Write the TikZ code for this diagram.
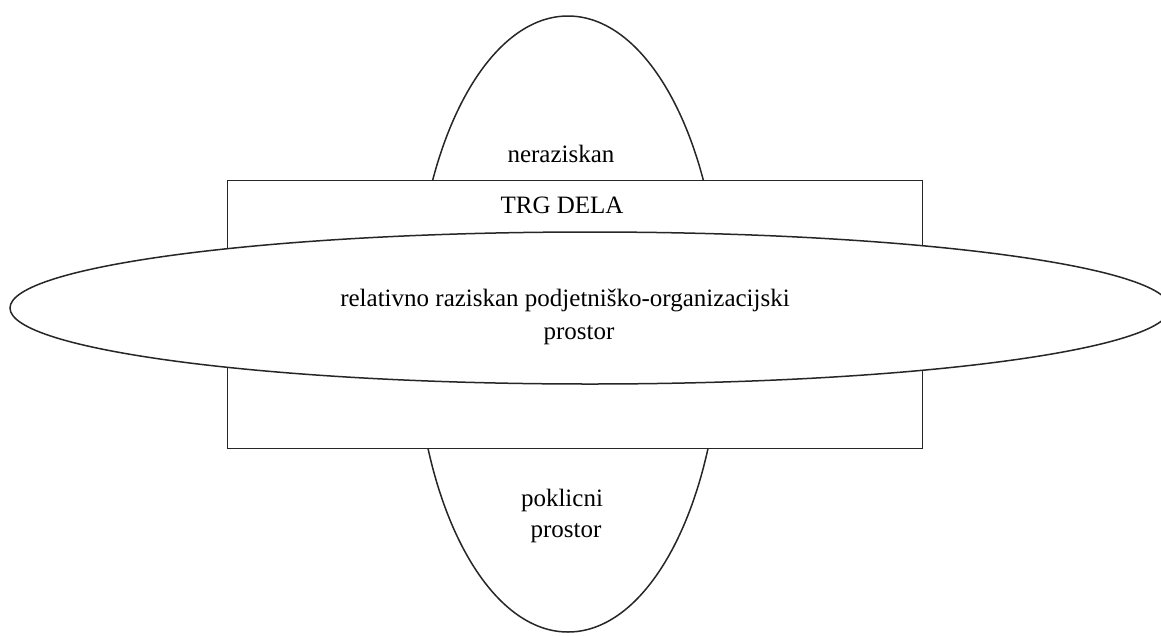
\documentclass[tikz,border=0pt]{standalone}
\usepackage{fontspec}
\setmainfont{Liberation Serif}
\begin{document}
\begin{tikzpicture}[x=1pt,y=-1pt,
  outline/.style={draw=black!85,line width=1.5pt},
  lbl/.style={anchor=base,inner sep=0pt,font=\fontsize{25}{30}\selectfont}]
\useasboundingbox (0,0) rectangle (1161,635);
\clip (0,0) rectangle (1161,635);
% vertical ellipse (behind)
\draw[outline] (568,324) ellipse [x radius=153, y radius=308];
% rectangle
\node[outline,fill=white,minimum width=695pt,minimum height=268pt,inner sep=0pt] (trg) at (575,314.5) {};
% horizontal ellipse
\draw[outline,fill=white] (590,308) ellipse [x radius=580, y radius=76];
% texts
\node[lbl] (ner) at (561,162) {neraziskan};
\node[lbl] (trgl) at (562,213) {TRG DELA};
\node[lbl] (rel1) at (565,306) {relativno raziskan podjetniško-organizacijski};
\node[lbl] (rel2) at (579,339) {prostor};
\node[lbl] (pok1) at (562,506) {poklicni};
\node[lbl] (pok2) at (566,537) {prostor};
\end{tikzpicture}
\end{document}
